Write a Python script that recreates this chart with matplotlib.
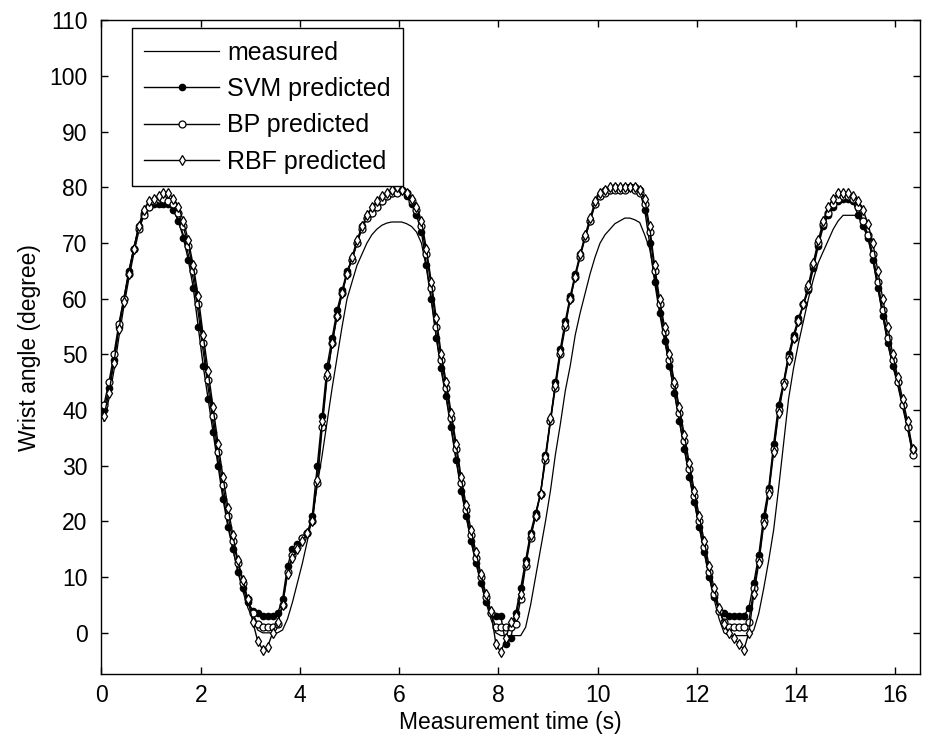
import numpy as np
import matplotlib
matplotlib.use("Agg")
import matplotlib.pyplot as plt

plt.rcParams['font.family'] = ['Liberation Sans', 'DejaVu Sans']

# sample times (s), 0.1 s apart
t = np.round(np.arange(0.05, 16.36, 0.1), 2)

measured = [
    38, 42, 47, 53, 58.5, 63.5, 68, 72, 75, 76.5,
    77, 77.5, 77.5, 77, 76, 74, 71.5, 68, 63.5, 57.5,
    50.5, 44, 37.5, 31, 25, 19.5, 15, 11, 7.5, 4.5,
    2.5, 0.5, 0, 0, 0, 0, 0.5, 2.5, 5.5, 9,
    12.5, 16.5, 21, 26.5, 32, 38, 44, 49.5, 55, 60,
    63, 66, 68, 70, 71.5, 72.5, 73.2, 73.6, 73.8, 73.8,
    73.8, 73.5, 73, 72, 70, 65.5, 59.5, 53, 47, 42,
    36.5, 31, 26, 21, 16.5, 12.5, 9, 5.5, 2.5, 0,
    -0.5, -0.5, -0.5, -0.5, -0.5, 1, 5, 10, 15, 20,
    25.5, 32, 37.5, 43.5, 48, 53.5, 57.5, 61, 64.5, 67.5,
    70, 71.5, 72.5, 73.5, 74, 74.5, 74.5, 74.2, 73.7, 71.5,
    69, 64, 58, 53, 48, 43, 38, 33, 28, 23.5,
    19, 14.5, 10, 6, 2.5, 0, -0.5, -0.5, -0.5, -0.5,
    -0.5, 0.5, 3.5, 8, 13, 18.5, 26, 34, 42, 47.5,
    52, 56, 60, 63.5, 66.5, 68.5, 70.5, 72.5, 74, 75,
    75, 75, 75, 74, 71, 67, 62, 57, 52, 48,
    44.5, 40.5, 36.5, 32.5,
]

svm = [
    40, 44, 49, 55, 60, 65, 69, 73, 75.5, 76.5,
    77, 77, 77, 77, 76, 74, 71, 67, 62, 55,
    48, 42, 36, 30, 24, 19, 15, 11, 8, 5.5,
    4, 3.5, 3, 3, 3, 3.5, 6, 12, 15, 16,
    17, 18, 21, 30, 39, 48, 53, 58, 61.5, 65,
    67, 70, 73, 74.5, 75.5, 76.5, 77.5, 78.5, 79, 79.5,
    79.5, 78.5, 77, 75, 72, 66, 60, 53, 47.5, 42.5,
    37, 31, 25.5, 21, 16.5, 12.5, 9, 5.5, 3.5, 3,
    3, -2, -1, 3.5, 8, 13, 18, 21.5, 25, 32,
    38, 45, 51, 56, 60.5, 64.5, 68, 71, 74, 77,
    78.5, 79.5, 79.5, 80, 79.5, 80, 80, 80, 79.5, 76,
    70, 63, 57.5, 52.5, 48, 43, 38, 33, 28, 23.5,
    19, 14.5, 10, 6.5, 4, 3.5, 3, 3, 3, 3,
    4.5, 9, 14, 21, 26, 34, 41, 45, 50, 53.5,
    56.5, 59, 61.5, 65.5, 69.5, 73, 75, 76.5, 77.5, 78,
    78, 77.5, 75, 73, 71, 67, 62, 57, 52, 48,
    45, 41, 37, 33,
]

bp = [
    41, 45, 50, 55.5, 60, 64.5, 69, 72.5, 75, 76.5,
    77.5, 78, 78, 77.5, 77, 75.5, 73, 69.5, 65, 59,
    52, 45.5, 39, 32.5, 26.5, 21, 16.5, 12.5, 9, 6,
    3.5, 1.5, 1, 1, 1, 1.5, 5, 11, 14, 15.5,
    17, 18, 20, 27, 37, 46, 52, 57, 61, 64.5,
    67, 70, 72.5, 74.5, 75.5, 76.5, 77.5, 78.5, 79, 79,
    79.5, 79, 77.5, 76, 73, 68, 62, 55, 49, 44,
    38.5, 33, 27, 22, 17.5, 13.5, 10, 6.5, 3.5, 1,
    1, 1, 1, 1.5, 6, 12, 17, 21, 25, 31,
    38, 44, 50, 55, 60, 64, 67.5, 71, 74, 77,
    78.5, 79, 79.5, 79.5, 79.5, 79.5, 80, 79.5, 79, 77,
    72, 65, 59, 54, 49, 44.5, 39.5, 34.5, 29.5, 24.5,
    20, 15.5, 11, 7, 4, 2, 1, 1, 1, 1,
    2, 8, 13, 20, 25.5, 33, 40, 45, 49.5, 53,
    56, 59, 62, 66, 70, 73.5, 75.5, 77, 78, 78.5,
    78.5, 78, 76.5, 74, 71.5, 68, 63, 58, 53, 49,
    45, 41, 37, 32,
]

rbf = [
    39, 43, 48.5, 54.5, 59.5, 64.5, 69, 73, 76, 77.5,
    78, 78.5, 79, 79, 78, 76.5, 74, 70.5, 66, 60.5,
    53.5, 47, 40.5, 34, 28, 22.5, 17.5, 13, 9.5, 6,
    2, -1.5, -3, -2.5, 0, 2, 5, 10.5, 13.5, 15,
    16.5, 18, 20, 27.5, 38, 46.5, 52, 57, 61, 64.5,
    67.5, 70.5, 73, 75, 76.5, 77.5, 78.5, 79, 79.5, 80,
    79.5, 79, 78, 76.5, 74, 69, 63, 56.5, 50, 45,
    39.5, 34, 28, 23, 18.5, 14.5, 10.5, 7, 4, -2,
    -3.5, -1, 2, 3, 7, 12.5, 17.5, 21, 25, 31.5,
    38.5, 44.5, 50.5, 55.5, 60, 64, 68, 71.5, 74.5, 77.5,
    79, 79.5, 80, 80, 80, 80, 80, 80, 79.5, 78,
    73, 66, 60, 55, 50, 45, 40.5, 35.5, 30.5, 25.5,
    21, 16.5, 12, 8, 4.5, 1.5, 0, -1, -2, -3,
    0, 7, 12.5, 19.5, 25, 32.5, 39.5, 44.5, 49, 53,
    56, 59, 62.5, 66.5, 70.5, 74, 76.5, 78, 79, 79,
    79, 78.5, 77.5, 76, 73.5, 70, 65, 60, 55, 50,
    46, 42, 38, 33,
]

fig = plt.figure(figsize=(9.25, 7.47), dpi=100)
ax = fig.add_axes([0.1097, 0.0977, 0.8849, 0.8749])

ax.plot(t, measured, color='k', lw=0.9, label='measured')
ax.plot(t, svm, color='k', lw=1.0, marker='o', ms=4.5, mfc='k', mec='k',
        label='SVM predicted')
ax.plot(t, bp, color='k', lw=1.0, marker='o', ms=5, mfc='white', mec='k',
        mew=0.9, label='BP predicted')
ax.plot(t, rbf, color='k', lw=1.0, marker='d', ms=5.5, mfc='white', mec='k',
        mew=0.9, label='RBF predicted')

ax.set_xlim(0, 16.5)
ax.set_ylim(-7.4, 110)
ax.set_xticks(np.arange(0, 17, 2))
ax.set_yticks(np.arange(0, 111, 10))
ax.tick_params(direction='in', length=5, width=1, top=True, right=True,
               labelsize=16.5)
ax.tick_params(axis='y', pad=10)
ax.tick_params(axis='x', pad=7)
for s in ax.spines.values():
    s.set_linewidth(1)

ax.set_xlabel('Measurement time (s)', fontsize=16.5, labelpad=3)
ax.set_ylabel('Wrist angle (degree)', fontsize=16.5, labelpad=6)

leg = ax.legend(loc='upper left', bbox_to_anchor=(0.037, 0.988),
                borderaxespad=0, fontsize=18, fancybox=False,
                edgecolor='k', framealpha=1, handlelength=3.0,
                handletextpad=0.32, labelspacing=0.49, borderpad=0.5)
leg.get_frame().set_linewidth(1)

fig.savefig('out.png', dpi=100)
